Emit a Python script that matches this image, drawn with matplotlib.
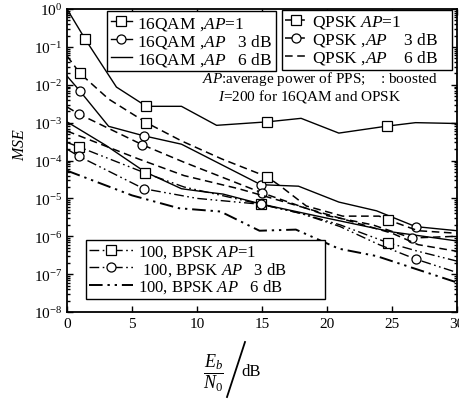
import matplotlib
matplotlib.use('Agg')
import matplotlib.pyplot as plt
from matplotlib.lines import Line2D
from matplotlib.ticker import LogLocator, NullFormatter

plt.rcParams['font.family'] = 'Liberation Serif'
plt.rcParams['mathtext.fontset'] = 'custom'
plt.rcParams['mathtext.rm'] = 'Liberation Serif'
plt.rcParams['mathtext.it'] = 'Liberation Serif:italic'

# values (Eb/N0 in dB, MSE)
x_16qam_ap1 = [0, 1.4, 3.8, 6.1, 8.8, 11.5, 15.4, 18.0, 20.9, 24.6, 26.8, 30]
mse_16qam_ap1 = [1.0, 0.16, 8.7e-3, 2.7e-3, 2.7e-3, 8.5e-4, 1.05e-3, 1.3e-3, 5.3e-4, 8.1e-4, 1.0e-3, 9.5e-4]

x_qpsk_ap1 = [0, 1.0, 3.2, 6.1, 8.8, 11.9, 15.4, 16.5, 18.4, 21.2, 24.0, 24.7, 27, 30]
mse_qpsk_ap1 = [5.8e-2, 2e-2, 4.2e-3, 1e-3, 3.3e-4, 1.1e-4, 3.7e-5, 2e-5, 6.3e-6, 3.4e-6, 3.4e-6, 2.7e-6, 1.4e-6, 1.2e-6]

x_16qam_3db = [0, 1.0, 3.2, 5.9, 8.8, 14.9, 17.8, 20.9, 23.8, 26.8, 30]
mse_16qam_3db = [1.7e-2, 6.8e-3, 8e-4, 4.5e-4, 2.7e-4, 2.3e-5, 2.1e-5, 8e-6, 4.7e-6, 1.8e-6, 1.4e-6]

x_qpsk_3db = [0, 0.9, 5.8, 9, 15, 20, 23.5, 26.5, 30]
mse_qpsk_3db = [2.6e-3, 1.7e-3, 2.6e-4, 9e-5, 1.4e-5, 3.5e-6, 2e-6, 9e-7, 1e-6]

x_16qam_6db = [0, 3, 6, 8.8, 10.5, 12, 15, 20, 25, 30]
mse_16qam_6db = [1.05e-3, 2.5e-4, 5e-5, 1.8e-5, 1.5e-5, 1.3e-5, 7e-6, 3e-6, 1.3e-6, 7.5e-7]

x_qpsk_6db = [0, 5.5, 9, 13.2, 15, 18, 21, 25, 27, 30]
mse_qpsk_6db = [6e-4, 1.1e-4, 4e-5, 1.8e-5, 1.2e-5, 6e-6, 3e-6, 1.2e-6, 6e-7, 4e-7]

x_bpsk_ap1 = [0, 0.9, 6.0, 9.0, 14.9, 18, 21, 24.7, 27, 30]
mse_bpsk_ap1 = [3e-4, 2.3e-4, 4.7e-5, 2e-5, 7e-6, 4e-6, 2e-6, 6.7e-7, 4e-7, 2.2e-7]

x_bpsk_3db = [0, 0.9, 5.9, 10, 14.9, 18, 21, 24, 26.8, 30]
mse_bpsk_3db = [2e-4, 1.3e-4, 1.8e-5, 1e-5, 7e-6, 4e-6, 1.8e-6, 6e-7, 2.5e-7, 1.1e-7]

x_bpsk_6db = [0, 5, 8.6, 11.8, 14.8, 17.6, 20.9, 23.8, 30]
mse_bpsk_6db = [5.4e-5, 1.2e-5, 5.5e-6, 4.5e-6, 1.4e-6, 1.5e-6, 4.7e-7, 3e-7, 6e-8]

xticks = [0, 5, 10, 15, 20, 25, 30]

mk = dict(markersize=6.5, markerfacecolor='white', markeredgecolor='black', markeredgewidth=0.9)
dash = (0, (5, 3))
dashdotdot = (0, (7, 2.5, 1.2, 2.5, 1.2, 2.5))

fig = plt.figure(figsize=(4.59, 4.02), dpi=100)
ax = fig.add_axes([0.146, 0.2214, 0.85, 0.7536])

l1, = ax.plot(x_16qam_ap1, mse_16qam_ap1, 'k-', lw=1.0, marker='s', markevery=[1, 3, 6, 9], **mk)
l2, = ax.plot(x_16qam_3db, mse_16qam_3db, 'k-', lw=1.0, marker='o', markevery=[1, 3, 5, 9], **mk)
l3, = ax.plot(x_16qam_6db, mse_16qam_6db, 'k-', lw=1.0)
q1, = ax.plot(x_qpsk_ap1, mse_qpsk_ap1, 'k', ls=dash, lw=1.1, marker='s', markevery=[1, 3, 6, 11], **mk)
q2, = ax.plot(x_qpsk_3db, mse_qpsk_3db, 'k', ls=dash, lw=1.1, marker='o', markevery=[1, 2, 4, 7], **mk)
q3, = ax.plot(x_qpsk_6db, mse_qpsk_6db, 'k', ls=dash, lw=1.1)
b1, = ax.plot(x_bpsk_ap1, mse_bpsk_ap1, 'k', ls=dashdotdot, lw=1.0, marker='s', markevery=[1, 2, 4, 7], **mk)
b2, = ax.plot(x_bpsk_3db, mse_bpsk_3db, 'k', ls=dashdotdot, lw=1.0, marker='o', markevery=[1, 2, 4, 8], **mk)
b3, = ax.plot(x_bpsk_6db, mse_bpsk_6db, 'k', ls=dashdotdot, lw=1.4)

ax.set_yscale('log')
ax.set_xlim(0, 30)
ax.set_ylim(1e-8, 1)
ax.set_xticks(xticks)
ax.set_xticklabels([str(t) for t in xticks])
ax.yaxis.set_major_locator(LogLocator(base=10, numticks=12))
ax.yaxis.set_minor_locator(LogLocator(base=10, subs=range(2, 10), numticks=12))
ax.yaxis.set_minor_formatter(NullFormatter())
ax.tick_params(which='both', direction='in', top=True, right=True, labelsize=11, width=1)
ax.tick_params(which='major', length=4)
ax.tick_params(which='minor', length=2)
for s in ax.spines.values():
    s.set_linewidth(1.3)

legkw = dict(frameon=True, fancybox=False, edgecolor='black', framealpha=1,
             borderaxespad=0, borderpad=0.2, labelspacing=0.0, handletextpad=0.3)
leg1 = ax.legend([l1, l2, l3],
                 ['16QAM ,$AP$=1', '16QAM ,$AP$   3 dB', '16QAM ,$AP$   6 dB'],
                 loc='upper left', bbox_to_anchor=(0.103, 0.993), handlelength=1.2,
                 fontsize=12.5, **legkw)
leg1.get_frame().set_linewidth(1.0)
ax.add_artist(leg1)
leg2 = ax.legend([q1, q2, q3],
                 ['QPSK $AP$=1', 'QPSK ,$AP$    3 dB', 'QPSK ,$AP$    6 dB'],
                 loc='upper left', bbox_to_anchor=(0.551, 0.993, 0.436, 0.005), mode='expand',
                 handlelength=1.2, fontsize=12.5, **legkw)
leg2.get_frame().set_linewidth(1.0)
ax.add_artist(leg2)
leg3 = ax.legend([b1, b2, b3],
                 ['100, BPSK $AP$=1', ' 100, BPSK $AP$   3 dB', '100, BPSK $AP$   6 dB'],
                 loc='upper left', bbox_to_anchor=(0.049, 0.228, 0.613, 0.01), mode='expand',
                 handlelength=2.6, fontsize=12, **legkw)
leg3.get_frame().set_linewidth(1.0)

ax.text(0.346, 0.772, '$AP$:average power of PPS;    : boosted', transform=ax.transAxes,
        fontsize=11, ha='left', va='center')
ax.text(0.387, 0.713, '$I$=200 for 16QAM and OPSK', transform=ax.transAxes,
        fontsize=11, ha='left', va='center')

fig.text(0.044, 0.64, '$MSE$', rotation=90, fontsize=11.5, ha='center', va='center')
fig.text(213 / 459, 1 - 373 / 402, r'$\dfrac{E_b}{N_0}$', fontsize=13, ha='center', va='center')
fig.add_artist(Line2D([227 / 459, 245 / 459], [1 - 398 / 402, 1 - 343 / 402],
                      transform=fig.transFigure, color='black', lw=1.3))
fig.text(251 / 459, 1 - 372 / 402, 'dB', fontsize=12, ha='center', va='center')

fig.savefig('out.png', dpi=100)
